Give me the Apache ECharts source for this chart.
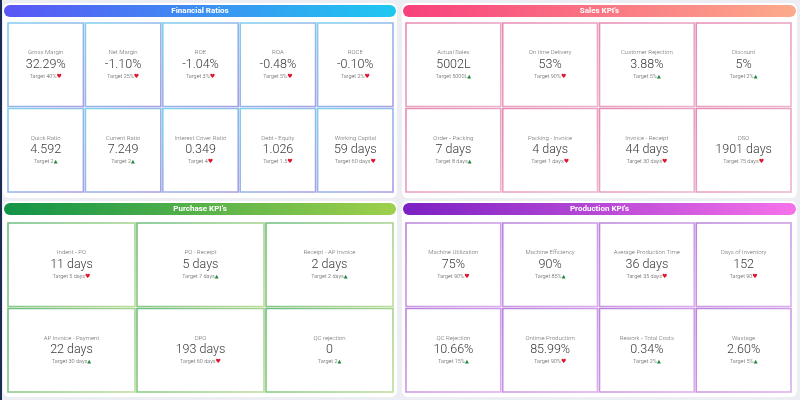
<!DOCTYPE html>
<html><head><meta charset="utf-8">
<script src="https://cdn.jsdelivr.net/npm/echarts@6/dist/echarts.min.js"></script>
<style>html,body{margin:0;padding:0;background:#eceef3;}#c{width:800px;height:400px;}</style>
</head><body><div id="c"></div>
<script>
// ---- data ----
const finLabels = ['Gross Margin','Net Margin','ROE','ROA','ROCE','Quick Ratio','Current Ratio','Interest Cover Ratio','Debt - Equity','Working Capital'];
const finValues = ['32.29%','-1.10%','-1.04%','-0.48%','-0.10%','4.592','7.249','0.349','1.026','59 days'];
const finTargets = ['40%','25%','3%','5%','2%','2','2','4','1.5','60 days'];
const finStatus = ['down','down','down','down','down','up','up','down','down','down'];

const salesLabels = ['Actual Sales','On time Delivery','Customer Rejection','Discount','Order - Packing','Packing - Invoice','Invoice - Receipt','DSO'];
const salesValues = ['5002L','53%','3.88%','5%','7 days','4 days','44 days','1901 days'];
const salesTargets = ['5000L','90%','5%','2%','8 days','1 days','30 days','75 days'];
const salesStatus = ['up','down','up','up','up','down','down','down'];

const purLabels = ['Indent - PO','PO - Receipt','Receipt - AP Invoice','AP Invoice - Payment','DPO','QC rejection'];
const purValues = ['11 days','5 days','2 days','22 days','193 days','0'];
const purTargets = ['5 days','7 days','2 days','30 days','60 days','2'];
const purStatus = ['down','up','up','up','down','up'];

const prodLabels = ['Machine Utilization','Machine Efficiency','Average Production Time','Days of Inventory','QC Rejection','Ontime Production','Rework - Total Costs','Wastage'];
const prodValues = ['75%','90%','36 days','152','10.66%','85.99%','0.34%','2.60%'];
const prodTargets = ['90%','85%','35 days','90','15%','90%','2%','5%'];
const prodStatus = ['down','up','down','down','up','down','up','up'];

const panelTitles = ['Financial Ratios',"Sales KPI's","Purchase KPI's","Production KPI's"];

// ---- styles ----
const FONT = 'Roboto';
const panels = [
  {labels:finLabels, values:finValues, targets:finTargets, status:finStatus, cols:5,
   box:[3,3,394,195], grid:{left:7,top:22,width:387,height:171},
   head:['#5a55f5','#1fc8f0'], border:['#80d0ef','#aa9de3']},
  {labels:salesLabels, values:salesValues, targets:salesTargets, status:salesStatus, cols:4,
   box:[402,3,395,195], grid:{left:405,top:22,width:387,height:171},
   head:['#f8407c','#fcab8b'], border:['#e58bb2','#edb4cf']},
  {labels:purLabels, values:purValues, targets:purTargets, status:purStatus, cols:3,
   box:[3,201,394,196], grid:{left:7,top:222,width:387,height:171},
   head:['#109347','#9fd04c'], border:['#6cbd7e','#bfdd98']},
  {labels:prodLabels, values:prodValues, targets:prodTargets, status:prodStatus, cols:4,
   box:[402,201,395,196], grid:{left:405,top:222,width:387,height:171},
   head:['#7a20c2','#f672ea'], border:['#ba82dc','#ddaeec']}
];

const chart = echarts.init(document.getElementById('c'), null, {renderer:'canvas'});

const graphic = [
  {type:'rect', shape:{x:0,y:0,width:2,height:400}, style:{fill:'#1c2b4f'}, z:0}
];
const grids = [], xAxes = [], yAxes = [], series = [];

panels.forEach((p, pi) => {
  const [bx,by,bw,bh] = p.box;
  graphic.push({type:'rect', shape:{x:bx,y:by,width:bw,height:bh,r:6}, style:{fill:'#ffffff'}, z:0});
  graphic.push({type:'rect', shape:{x:bx+1,y:by+2,width:bw-2,height:12,r:6},
    style:{fill:new echarts.graphic.LinearGradient(0,0,1,0,[{offset:0,color:p.head[0]},{offset:1,color:p.head[1]}])}, z:1});
  graphic.push({type:'text', x:bx+bw/2, y:by+8, z:2,
    style:{text:panelTitles[pi], fill:'#fff', font:'bold 8px '+FONT, textAlign:'center', textVerticalAlign:'middle'}});

  const rows = Math.ceil(p.labels.length / p.cols);
  grids.push(Object.assign({show:false}, p.grid));
  xAxes.push({type:'category', gridIndex:pi, data:[...Array(p.cols).keys()].map(String), show:false});
  yAxes.push({type:'category', gridIndex:pi, data:[...Array(rows).keys()].map(String), inverse:true, show:false});
  const data = p.labels.map((l, i) => [i % p.cols, Math.floor(i / p.cols), i]);
  series.push({
    type:'custom', xAxisIndex:pi, yAxisIndex:pi, data:data, silent:true,
    renderItem:(params, api) => {
      const i = api.value(2);
      const c = api.coord([api.value(0), api.value(1)]);
      const s = api.size([1,1]);
      const x = c[0]-s[0]/2+1, y = c[1]-s[1]/2+1, w = s[0]-2, h = s[1]-2;
      const up = p.status[i] === 'up';
      return {type:'group', children:[
        {type:'rect', shape:{x:x,y:y,width:w,height:h},
         style:{fill:'#fff', lineWidth:1.6,
           stroke:new echarts.graphic.LinearGradient(0,0,1,1,[{offset:0,color:p.border[0]},{offset:1,color:p.border[1]}])}},
        {type:'text', x:c[0], y:c[1]-12, style:{text:p.labels[i], fill:'#6a6a6a', font:'300 6px '+FONT, textAlign:'center', textVerticalAlign:'middle'}},
        {type:'text', x:c[0], y:c[1], style:{text:p.values[i], fill:'#383838', font:'300 12.5px '+FONT, textAlign:'center', textVerticalAlign:'middle'}},
        {type:'text', x:c[0], y:c[1]+11.5, style:{
          text:'{t|Target '+p.targets[i]+'}{'+(up?'u':'d')+'|'+(up?'▲':'♥')+'}',
          textAlign:'center', textVerticalAlign:'middle',
          rich:{t:{fill:'#555', font:'300 5.5px '+FONT},
                u:{fill:'#1f8a3b', font:'5px DejaVu Sans'},
                d:{fill:'#e0142c', font:'6px DejaVu Sans'}}}}
      ]};
    }
  });
});

chart.setOption({
  animation:false,
  backgroundColor:'#eceef3',
  graphic:graphic,
  grid:grids, xAxis:xAxes, yAxis:yAxes, series:series
});
</script></body></html>
